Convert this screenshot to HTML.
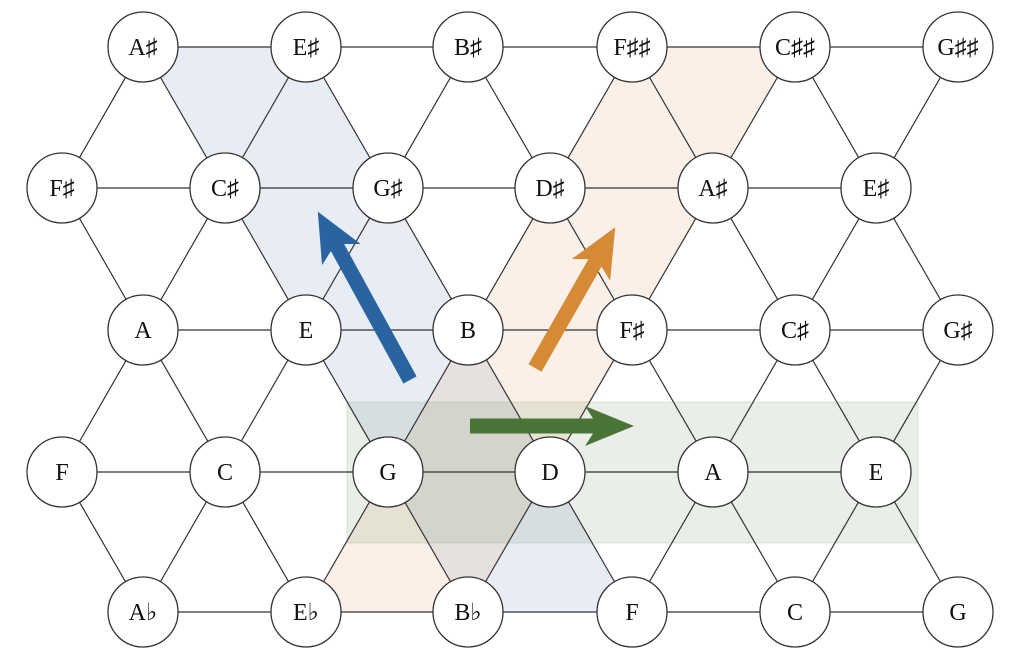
<!DOCTYPE html>
<html><head><meta charset="utf-8"><style>
html,body{margin:0;padding:0;background:#fff}
svg{display:block}
text{font-family:"Liberation Serif","DejaVu Serif",serif;font-size:24px;fill:#111}
</style></head><body>
<svg width="1024" height="666" viewBox="0 0 1024 666" xmlns="http://www.w3.org/2000/svg">
<polygon points="143,47 306,47 632,612 468,612" fill="#5a7fb5" fill-opacity="0.14"/>
<polygon points="306,612 468,612 795,47 632,47" fill="#e0a36a" fill-opacity="0.16"/>
<rect x="347" y="402" width="571" height="141" fill="#6f8f62" fill-opacity="0.15" stroke="#6f8f62" stroke-opacity="0.2"/>
<g stroke="#333" stroke-width="1.2" fill="none">
<line x1="143" y1="47" x2="958" y2="47"/>
<line x1="143" y1="330" x2="958" y2="330"/>
<line x1="143" y1="612" x2="958" y2="612"/>
<line x1="62" y1="188" x2="876" y2="188"/>
<line x1="62" y1="472" x2="876" y2="472"/>
<line x1="62" y1="188" x2="306" y2="612"/>
<line x1="143" y1="47" x2="468" y2="612"/>
<line x1="306" y1="47" x2="632" y2="612"/>
<line x1="468" y1="47" x2="795" y2="612"/>
<line x1="632" y1="47" x2="958" y2="612"/>
<line x1="795" y1="47" x2="958" y2="330"/>
<line x1="62" y1="472" x2="143" y2="612"/>
<line x1="143" y1="47" x2="62" y2="188"/>
<line x1="306" y1="47" x2="62" y2="472"/>
<line x1="468" y1="47" x2="143" y2="612"/>
<line x1="632" y1="47" x2="306" y2="612"/>
<line x1="795" y1="47" x2="468" y2="612"/>
<line x1="958" y1="47" x2="632" y2="612"/>
<line x1="958" y1="330" x2="795" y2="612"/>
</g>
<g transform="translate(410,380) rotate(-118.7)"><polygon points="0,-7.5 151,-7.5 143,-22 192,0 143,22 151,7.5 0,7.5" fill="#2a64a0"/></g>
<g transform="translate(535,368) rotate(-60.3)"><polygon points="0,-7.5 121,-7.5 113,-22 162,0 113,22 121,7.5 0,7.5" fill="#d58a35"/></g>
<g transform="translate(470,426)"><polygon points="0,-7.5 123,-7.5 115,-20 164,0 115,20 123,7.5 0,7.5" fill="#4a7536"/></g>
<g fill="#fff" stroke="#333" stroke-width="1.3">
<circle cx="143" cy="47" r="35"/><circle cx="306" cy="47" r="35"/><circle cx="468" cy="47" r="35"/><circle cx="632" cy="47" r="35"/><circle cx="795" cy="47" r="35"/><circle cx="958" cy="47" r="35"/>
<circle cx="62" cy="188" r="35"/><circle cx="225" cy="188" r="35"/><circle cx="388" cy="188" r="35"/><circle cx="550" cy="188" r="35"/><circle cx="713" cy="188" r="35"/><circle cx="876" cy="188" r="35"/>
<circle cx="143" cy="330" r="35"/><circle cx="306" cy="330" r="35"/><circle cx="468" cy="330" r="35"/><circle cx="632" cy="330" r="35"/><circle cx="795" cy="330" r="35"/><circle cx="958" cy="330" r="35"/>
<circle cx="62" cy="472" r="35"/><circle cx="225" cy="472" r="35"/><circle cx="388" cy="472" r="35"/><circle cx="550" cy="472" r="35"/><circle cx="713" cy="472" r="35"/><circle cx="876" cy="472" r="35"/>
<circle cx="143" cy="612" r="35"/><circle cx="306" cy="612" r="35"/><circle cx="468" cy="612" r="35"/><circle cx="632" cy="612" r="35"/><circle cx="795" cy="612" r="35"/><circle cx="958" cy="612" r="35"/>
</g>
<g text-anchor="middle">
<text x="143" y="55">A♯</text><text x="306" y="55">E♯</text><text x="468" y="55">B♯</text><text x="632" y="55">F♯♯</text><text x="795" y="55">C♯♯</text><text x="958" y="55">G♯♯</text>
<text x="62" y="196">F♯</text><text x="225" y="196">C♯</text><text x="388" y="196">G♯</text><text x="550" y="196">D♯</text><text x="713" y="196">A♯</text><text x="876" y="196">E♯</text>
<text x="143" y="338">A</text><text x="306" y="338">E</text><text x="468" y="338">B</text><text x="632" y="338">F♯</text><text x="795" y="338">C♯</text><text x="958" y="338">G♯</text>
<text x="62" y="480">F</text><text x="225" y="480">C</text><text x="388" y="480">G</text><text x="550" y="480">D</text><text x="713" y="480">A</text><text x="876" y="480">E</text>
<text x="143" y="620">A♭</text><text x="306" y="620">E♭</text><text x="468" y="620">B♭</text><text x="632" y="620">F</text><text x="795" y="620">C</text><text x="958" y="620">G</text>
</g>
</svg>
</body></html>
